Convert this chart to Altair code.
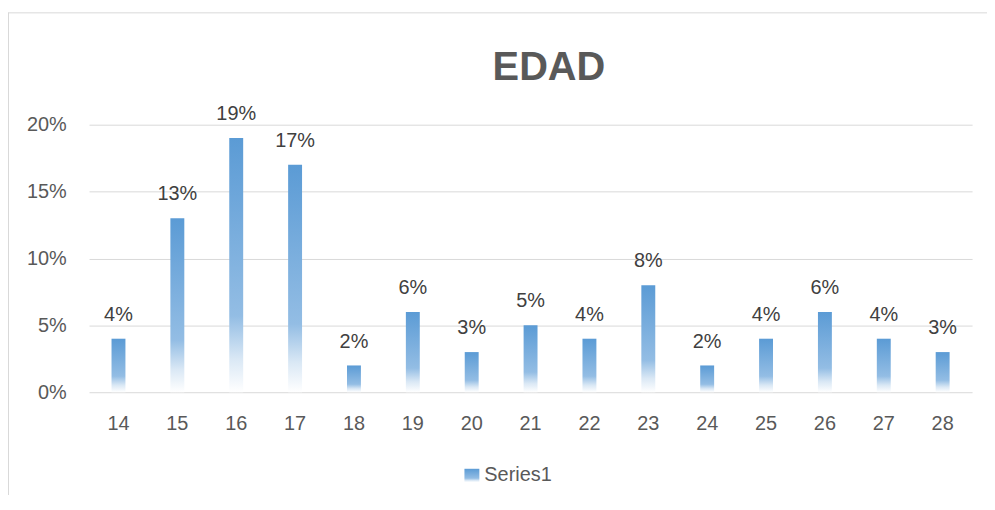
import altair as alt
import pandas as pd

ages = ["14", "15", "16", "17", "18", "19", "20", "21", "22", "23", "24", "25", "26", "27", "28"]
percents = [4, 13, 19, 17, 2, 6, 3, 5, 4, 8, 2, 4, 6, 4, 3]
y_ticks = [0, 0.05, 0.10, 0.15, 0.20]
title_text = "EDAD"
series_name = "Series1"

df = pd.DataFrame({"edad": ages, "valor": [p / 100 for p in percents]})

FONT = "Liberation Sans"
grad = alt.LinearGradient(
    gradient="linear",
    stops=[
        alt.GradientStop(color="#5b9bd5", offset=0),
        alt.GradientStop(color="#93bde4", offset=0.7),
        alt.GradientStop(color="#dae8f5", offset=0.87),
        alt.GradientStop(color="#ffffff", offset=1),
    ],
    x1=0, x2=0, y1=0, y2=1,
)

base = alt.Chart(df)

x_enc = alt.X(
    "edad:N", sort=ages, title=None,
    axis=alt.Axis(labelAngle=0, domain=False, ticks=False, grid=False,
                  labelFontSize=20, labelColor="#595959", labelFont=FONT, labelPadding=22),
)

bars = base.mark_bar(size=14, fill=grad).encode(
    x=x_enc,
    y=alt.Y("valor:Q", title=None,
            scale=alt.Scale(domain=[0, 0.2], nice=False),
            axis=alt.Axis(values=y_ticks, format=".0%", domain=False, ticks=False,
                          grid=True, gridColor="#d9d9d9", gridWidth=1,
                          labelFontSize=20, labelColor="#595959", labelFont=FONT,
                          labelPadding=23)),
)

labels = base.mark_text(baseline="bottom", dy=-14, fontSize=20, color="#404040", font=FONT).encode(
    x=alt.X("edad:N", sort=ages),
    y=alt.Y("valor:Q"),
    text=alt.Text("valor:Q", format=".0%"),
)

one = alt.Chart(pd.DataFrame({"name": [series_name], "title": [title_text]}))

frame_left = one.mark_rule(color="#d9d9d9", strokeWidth=1).encode(
    x=alt.value(-81), y=alt.value(-113), y2=alt.value(600)
)
frame_top = one.mark_rule(color="#d9d9d9", strokeWidth=1).encode(
    x=alt.value(-81), x2=alt.value(1000), y=alt.value(-112.5)
)

title_mark = one.mark_text(align="center", baseline="alphabetic", fontSize=40, fontWeight="bold",
                           color="#595959", font=FONT).encode(
    x=alt.value(462.5), y=alt.value(-44.5), text="title:N"
)

legend_sym = one.mark_rect(fill=grad).encode(
    x=alt.value(377.5), x2=alt.value(392.5), y=alt.value(346), y2=alt.value(359.5)
)
legend_txt = one.mark_text(align="left", baseline="middle", fontSize=20, color="#595959", font=FONT).encode(
    x=alt.value(397.5), y=alt.value(352), text="name:N"
)

chart = alt.layer(frame_left, frame_top, title_mark, bars, labels, legend_sym, legend_txt).properties(
    width=888, height=269,
    autosize=alt.AutoSizeParams(type="none"),
    padding={"left": 81.5, "top": 116, "right": 15, "bottom": 102},
).configure_view(stroke=None)

chart.save("out.html", embed_options={"renderer": "svg", "actions": False})
